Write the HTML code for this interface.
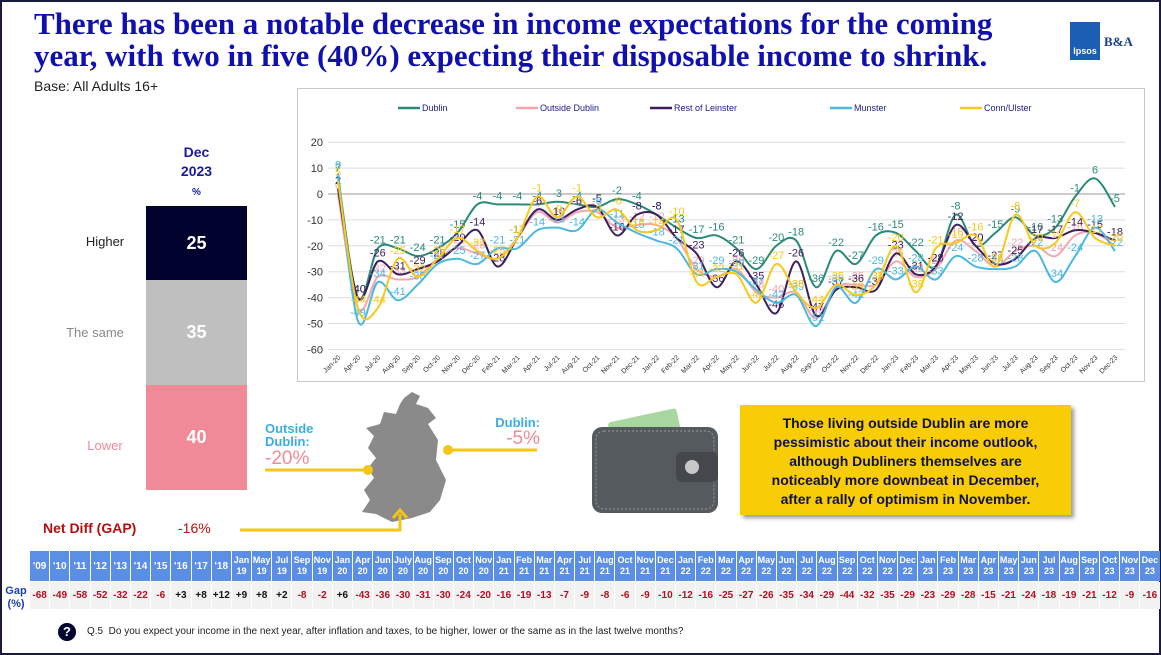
<!DOCTYPE html>
<html><head><meta charset="utf-8">
<style>
*{margin:0;padding:0;box-sizing:border-box}
body{width:1161px;height:655px;background:#fff;font-family:"Liberation Sans",sans-serif;position:relative;overflow:hidden}
.frame{position:absolute;left:0;top:0;width:1161px;height:655px;border:2px solid #1a1a3a}
.title{position:absolute;left:34px;top:8px;font-family:"Liberation Serif",serif;font-weight:bold;font-size:31px;line-height:32px;color:#1010b0;white-space:nowrap}
.base{position:absolute;left:34px;top:78px;font-size:14px;color:#222}
.abs{position:absolute}
table{border-collapse:separate;border-spacing:1px}
</style></head><body>
<div class="frame"></div>
<div class="title">There has been a notable decrease in income expectations for the coming<br>year, with two in five (40%) expecting their disposable income to shrink.</div>
<div class="base">Base: All Adults 16+</div>
<!-- logo -->
<div class="abs" style="left:1070px;top:22px;width:30px;height:38px;background:#1a5fb4;color:#fff;font-size:9px;font-weight:bold;text-align:center;padding-top:24px">Ipsos</div>
<div class="abs" style="left:1104px;top:34px;font-family:'Liberation Serif',serif;font-weight:bold;font-size:13px;color:#1a3f8a">B&amp;A</div>

<!-- bar -->
<div class="abs" style="left:146px;top:143px;width:101px;text-align:center;color:#1a1a9a;font-weight:bold;font-size:14px;line-height:19px">Dec<br>2023<br><span style="font-size:10px">%</span></div>
<div class="abs" style="left:146px;top:206px;width:101px;height:74px;background:#02022e;color:#fff;font-weight:bold;font-size:18px;text-align:center;line-height:74px">25</div>
<div class="abs" style="left:146px;top:280px;width:101px;height:105px;background:#bfbfbf;color:#fff;font-weight:bold;font-size:18px;text-align:center;line-height:105px">35</div>
<div class="abs" style="left:146px;top:385px;width:101px;height:105px;background:#f08a96;color:#fff;font-weight:bold;font-size:18px;text-align:center;line-height:105px">40</div>
<div class="abs" style="left:60px;top:234px;width:90px;text-align:center;font-size:13px;color:#222">Higher</div>
<div class="abs" style="left:50px;top:325px;width:90px;text-align:center;font-size:13px;color:#888">The same</div>
<div class="abs" style="left:60px;top:438px;width:90px;text-align:center;font-size:13px;color:#f08a96">Lower</div>
<div class="abs" style="left:43px;top:520px;font-size:14px;font-weight:bold;color:#b01010">Net Diff (GAP)</div>
<div class="abs" style="left:178px;top:520px;font-size:14px;color:#b01010">-16%</div>

<!-- chart -->
<div class="abs" style="left:297px;top:88px;width:848px;height:294px;border:1px solid #c8c8c8"></div>
<svg id="ch" class="abs" style="left:0;top:0" width="1161" height="655"></svg>

<!-- map & arrows -->
<svg class="abs" style="left:0;top:0" width="1161" height="655">
<path d="M404,398 L412,392 L420,396 L416,404 L428,408 L436,418 L428,424 L438,440 L436,460 L446,480 L440,500 L430,512 L412,518 L392,522 L376,514 L362,512 L370,500 L364,490 L374,478 L368,468 L376,458 L368,448 L374,436 L366,428 L380,424 L384,412 L396,414 L400,404 Z" fill="#8a8a8a"/>
<path d="M240,530 L400,530 L400,514" stroke="#f5c518" stroke-width="3" fill="none"/>
<path d="M393,518 L400,510 L407,518" stroke="#f5c518" stroke-width="3" fill="none"/>
<line x1="265" y1="470" x2="368" y2="470" stroke="#f5c518" stroke-width="3"/><circle cx="368" cy="470" r="5" fill="#f5c518"/>
<line x1="448" y1="450" x2="537" y2="450" stroke="#f5c518" stroke-width="3"/><circle cx="448" cy="450" r="5" fill="#f5c518"/>
<!-- wallet -->
<rect x="610" y="415" width="70" height="28" rx="3" fill="#a8d8a0" transform="rotate(-12 645 430)"/>
<rect x="592" y="427" width="126" height="86" rx="10" fill="#555a5e"/>
<rect x="596" y="431" width="118" height="78" rx="8" fill="none" stroke="#999" stroke-dasharray="2,2"/>
<rect x="676" y="452" width="42" height="30" rx="6" fill="#44484c"/><circle cx="692" cy="467" r="7" fill="#c8c8c8"/>
</svg>
<div class="abs" style="left:265px;top:422px;font-size:13px;font-weight:bold;color:#3aaee0;line-height:13px">Outside<br>Dublin:</div>
<div class="abs" style="left:265px;top:448px;font-size:19px;color:#f08a96">-20%</div>
<div class="abs" style="left:490px;top:415px;width:50px;text-align:right;font-size:13px;font-weight:bold;color:#3aaee0">Dublin:</div>
<div class="abs" style="left:480px;top:428px;width:60px;text-align:right;font-size:19px;color:#f08a96">-5%</div>

<div class="abs" style="left:740px;top:405px;width:331px;height:110px;background:#f8cd06;box-shadow:3px 3px 4px #999;color:#10104a;font-weight:bold;font-size:14px;line-height:19px;text-align:center;padding-top:9px">Those living outside Dublin are more<br>pessimistic about their income outlook,<br>although Dubliners themselves are<br>noticeably more downbeat in December,<br>after a rally of optimism in November.</div>

<div id="tbl" class="abs" style="left:29px;top:550px"></div>
<div class="abs" style="left:2px;top:585px;width:28px;text-align:center;color:#1a3fb0;font-weight:bold;font-size:11px;line-height:13px">Gap<br>(%)</div>
<div class="abs" style="left:58px;top:623px;width:18px;height:18px;border-radius:50%;background:#02022e;color:#fff;font-weight:bold;font-size:13px;text-align:center;line-height:18px">?</div>
<div class="abs" style="left:87px;top:626px;font-size:10px;color:#222">Q.5&nbsp; Do you expect your income in the next year, after inflation and taxes, to be higher, lower or the same as in the last twelve months?</div>

<script>
var cats="Jan-20 Apr-20 Jul-20 Aug-20 Sep-20 Oct-20 Nov-20 Dec-20 Feb-21 Mar-21 Apr-21 Jul-21 Aug-21 Oct-21 Nov-21 Dec-21 Jan-22 Feb-22 Mar-22 Apr-22 May-22 Jun-22 Jul-22 Aug-22 Sep-22 Oct-22 Nov-22 Dec-22 Jan-23 Feb-23 Mar-23 Apr-23 May-23 Jun-23 Jul-23 Aug-23 Sep-23 Oct-23 Nov-23 Dec-23".split(" ");
var S=[
["Dublin","#2a8a7a",[7,-40,-21,-21,-24,-21,-15,-4,-4,-4,-4,-3,-4,-5,-2,-4,-8,-13,-17,-16,-21,-29,-20,-18,-36,-22,-27,-16,-15,-22,-28,-8,-20,-15,-9,-16,-13,-1,6,-5]],
["Outside Dublin","#f4a6b0",[0,-44,-32,-33,-32,-25,-21,-23,-25,-17,-7,-11,-7,-7,-13,-12,-12,-17,-29,-32,-29,-38,-40,-38,-48,-36,-35,-35,-26,-32,-29,-18,-22,-28,-22,-20,-24,-16,-15,-20]],
["Rest of Leinster","#3c1f5e",[2,-40,-26,-31,-29,-26,-20,-14,-28,-17,-6,-10,-6,-5,-16,-8,-8,-17,-23,-36,-26,-35,-46,-26,-47,-37,-36,-37,-23,-31,-28,-12,-20,-27,-25,-17,-17,-14,-15,-18]],
["Munster","#4bb8e0",[8,-49,-34,-41,-35,-27,-25,-27,-21,-21,-14,-13,-14,-6,-11,-15,-18,-21,-31,-29,-30,-37,-42,-39,-51,-36,-42,-29,-33,-28,-33,-24,-28,-29,-28,-22,-34,-24,-13,-22]],
["Conn/Ulster","#f8c81a",[5,-44,-44,-25,-32,-25,-17,-22,-25,-17,-1,-9,-1,-9,-6,-14,-14,-10,-34,-32,-31,-42,-27,-38,-44,-35,-39,-35,-20,-38,-21,-19,-16,-28,-8,-20,-19,-7,-17,-20]]];
var X0=338,DX=(1115-338)/39,Y=function(v){return 194-v*2.59};
var s='';
for(var v=20;v>=-60;v-=10){var y=Y(v);s+='<line x1="328" y1="'+y+'" x2="1125" y2="'+y+'" stroke="'+(v==0?'#999':'#ddd')+'"/>';s+='<text x="323" y="'+(y+4)+'" font-size="11" text-anchor="end" fill="#333" font-family="Liberation Sans">'+v+'</text>';}
cats.forEach(function(c,i){var x=X0+i*DX;s+='<text transform="translate('+(x+3)+',358) rotate(-45)" font-size="7" text-anchor="end" fill="#333" font-family="Liberation Sans">'+c+'</text>';});
var lx=[398,516,650,830,960];
S.forEach(function(se,k){
 var p=se[2].map(function(v,i){return [X0+i*DX,Y(v)]});
 var d='M'+p[0][0]+','+p[0][1];
 for(var i=0;i<p.length-1;i++){var a=p[i-1]||p[i],b=p[i],c=p[i+1],e=p[i+2]||c;
  d+=' C'+(b[0]+(c[0]-a[0])/6)+','+(b[1]+(c[1]-a[1])/6)+' '+(c[0]-(e[0]-b[0])/6)+','+(c[1]-(e[1]-b[1])/6)+' '+c[0]+','+c[1];}
 s+='<path d="'+d+'" fill="none" stroke="'+se[1]+'" stroke-width="2"/>';
 p.forEach(function(q,i){s+='<text x="'+q[0]+'" y="'+(q[1]-5)+'" font-size="11" text-anchor="middle" fill="'+se[1]+'" font-family="Liberation Sans">'+se[2][i]+'</text>';});
 s+='<line x1="'+lx[k]+'" y1="108" x2="'+(lx[k]+22)+'" y2="108" stroke="'+se[1]+'" stroke-width="2.5"/><text x="'+(lx[k]+24)+'" y="111" font-size="9" fill="#1a1a8a" font-family="Liberation Sans">'+se[0]+'</text>';
});
document.getElementById('ch').innerHTML=s;
var H=["'09","'10","'11","'12","'13","'14","'15","'16","'17","'18","Jan 19","May 19","Jul 19","Sep 19","Nov 19","Jan 20","Apr 20","Jun 20","July 20","Aug 20","Sep 20","Oct 20","Nov 20","Jan 21","Feb 21","Mar 21","Apr 21","Jul 21","Aug 21","Oct 21","Nov 21","Dec 21","Jan 22","Feb 22","Mar 22","Apr 22","May 22","Jun 22","Jul 22","Aug 22","Sep 22","Oct 22","Nov 22","Dec 22","Jan 23","Feb 23","Mar 23","Apr 23","May 23","Jun 23","Jul 23","Aug 23","Sep 23","Oct 23","Nov 23","Dec 23"];
var G="-68 -49 -58 -52 -32 -22 -6 +3 +8 +12 +9 +8 +2 -8 -2 +6 -43 -36 -30 -31 -30 -24 -20 -16 -19 -13 -7 -9 -8 -6 -9 -10 -12 -16 -25 -27 -26 -35 -34 -29 -44 -32 -35 -29 -23 -29 -28 -15 -21 -24 -18 -19 -21 -12 -9 -16".split(" ");
var w=(1160-29)/H.length-1;
var t='<table><tr>';
H.forEach(function(h){var p=h.split(" ");t+='<td style="width:'+w+'px;height:30px;background:#5b8fe6;color:#fff;font-weight:bold;font-size:'+(p.length>1?9:10)+'px;text-align:center;line-height:11px">'+(p.length>1?p[0]+'<br>'+p[1]:h)+'</td>';});
t+='</tr><tr>';
G.forEach(function(g){t+='<td style="height:27px;background:#f2f2f2;color:'+(g[0]=='+'?'#111':'#b01020')+';font-weight:bold;font-size:10px;text-align:center">'+g+'</td>';});
document.getElementById('tbl').innerHTML=t+'</tr></table>';
</script>
</body></html>
